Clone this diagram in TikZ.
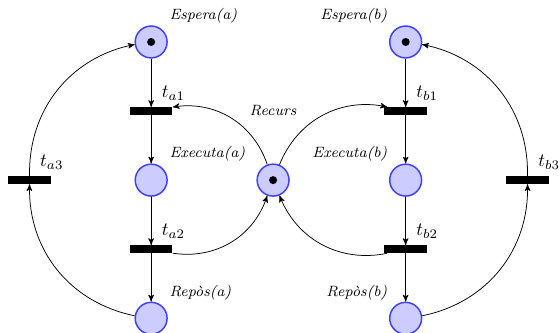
\documentclass[tikz,border=0pt]{standalone}
\usepackage{tikz}
\usetikzlibrary{arrows, petri}

\begin{document}
\begin{tikzpicture}[>=stealth', bend angle=40,
    place/.style={circle, thick, draw=blue!75, fill=blue!20, minimum size=6mm},
    transition/.style={rectangle, fill=black, minimum width=8mm, inner ysep=2pt},
    lbl/.style={font=\footnotesize\itshape}]
        \useasboundingbox (0,0) rectangle (10.54,6.25);

        % Places
        \node[place, tokens=1, label={[lbl]above right:Espera(a)}] (esperaA) at (2.845, 5.46) {};
        \node[place, label={[lbl]above right:Executa(a)}] (executaA) at (2.845, 2.86) {};
        \node[place, label={[lbl]above right:Repòs(a)}] (reposA) at (2.845, 0.26) {};
        \node[place, tokens=1] (recurs) at (5.14, 2.86) {};
        \node[lbl] (recursLbl) at (5.14, 4.17) {Recurs};
        \node[place, tokens=1, label={[lbl]above left:Espera(b)}] (esperaB) at (7.635, 5.46) {};
        \node[place, label={[lbl]above left:Executa(b)}] (executaB) at (7.635, 2.86) {};
        \node[place, label={[lbl]above left:Repòs(b)}] (reposB) at (7.635, 0.26) {};

        % Transitions
        \node[transition, label=above right:$t_{a1}$] (ta1) at (2.845, 4.16) {};
        \node[transition, label=above right:$t_{a2}$] (ta2) at (2.845, 1.56) {};
        \node[transition, label=above right:$t_{a3}$] (ta3) at (0.555, 2.86) {};
        \node[transition, label=above right:$t_{b1}$] (tb1) at (7.635, 4.16) {};
        \node[transition, label=above right:$t_{b2}$] (tb2) at (7.635, 1.56) {};
        \node[transition, label=above right:$t_{b3}$] (tb3) at (9.93, 2.86) {};

        % Arcs
        \draw[->] (esperaA) -- (ta1);
        \draw[->] (ta1) -- (executaA);
        \draw[->] (executaA) -- (ta2);
        \draw[->] (ta2) -- (reposA);
        \draw[->, bend left] (reposA) to (ta3);
        \draw[->, bend left] (ta3) to (esperaA);
        \draw[->, bend right] (recurs) to (ta1);
        \draw[->, bend right] (ta2) to (recurs);

        \draw[->] (esperaB) -- (tb1);
        \draw[->] (tb1) -- (executaB);
        \draw[->] (executaB) -- (tb2);
        \draw[->] (tb2) -- (reposB);
        \draw[->, bend right] (reposB) to (tb3);
        \draw[->, bend right] (tb3) to (esperaB);
        \draw[->, bend left] (recurs) to (tb1);
        \draw[->, bend left] (tb2) to (recurs);
    \end{tikzpicture}
\end{document}
